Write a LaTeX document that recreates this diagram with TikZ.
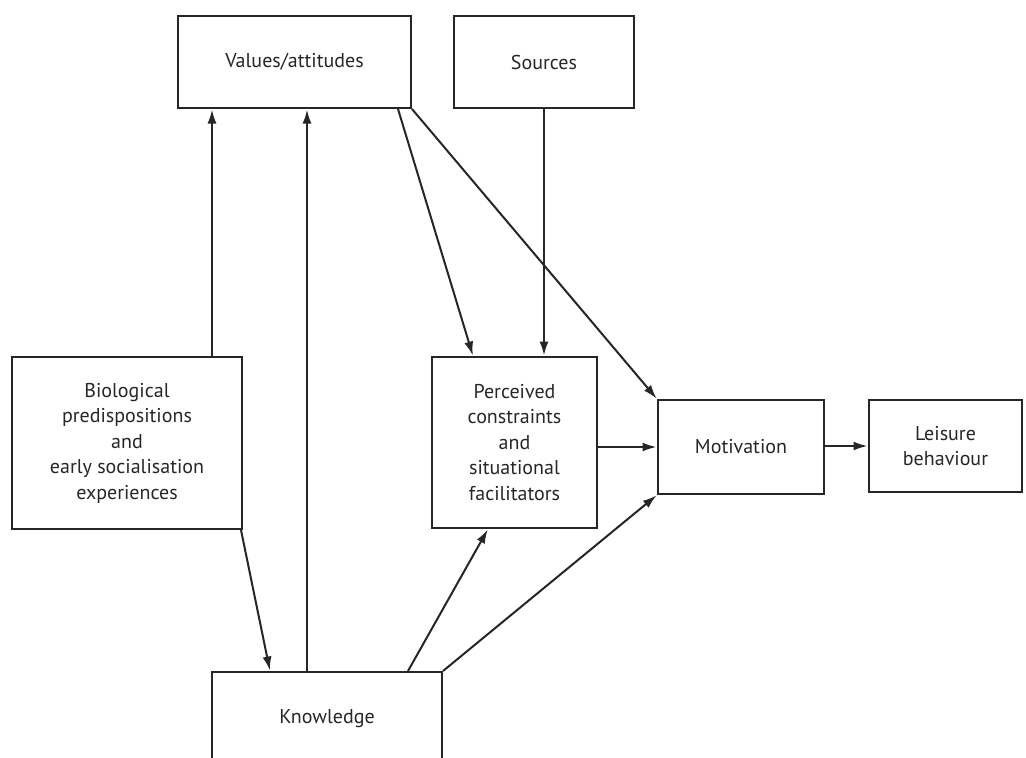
\documentclass[tikz,border=0pt]{standalone}
\usepackage{fontspec}
\setmainfont{PT Sans}
\usetikzlibrary{arrows.meta}
\begin{document}
\begin{tikzpicture}[x=1pt,y=-1pt,
  box/.style={draw, line width=2pt, inner sep=0pt, align=center, font=\fontsize{20}{25.5}\selectfont, color=black!85},
  arr/.style={line width=2pt, draw=black!85, -{Latex[length=14pt,width=9pt]}, shorten >=0.5pt}]
\useasboundingbox (0,0) rectangle (1026,758);
\clip (0,0) rectangle (1026,758);
\node[box, minimum width=233pt, minimum height=92pt] (vals) at (294.5,62) {Values/attitudes};
\node[box, minimum width=180pt, minimum height=92pt] (src) at (544,62) {Sources};
\node[box, minimum width=230pt, minimum height=172pt] (bio) at (127,443) {Biological\\predispositions\\and\\early socialisation\\experiences};
\node[box, minimum width=165pt, minimum height=171pt] (perc) at (514.5,442.5) {Perceived\\constraints\\and\\situational\\facilitators};
\node[box, minimum width=166pt, minimum height=94pt] (mot) at (741,447) {Motivation};
\node[box, minimum width=153pt, minimum height=92pt] (leis) at (945.5,446) {Leisure\\behaviour};
\node[box, minimum width=230pt, minimum height=94pt] (know) at (327,719) {Knowledge};

\draw[arr] ([xshift=85pt]bio.north) -- ([xshift=85pt]bio.north |- vals.south);
\draw[arr] ([xshift=-20pt]know.north) -- ([xshift=-20pt]know.north |- vals.south);
\draw[arr] ([xshift=103.5pt]vals.south) -- ([xshift=-41.5pt]perc.north);
\draw[arr] (vals.south east) -- (mot.north west);
\draw[arr] (src.south) -- (src.south |- perc.north);
\draw[arr] (perc.east |- mot.west) -- (mot.west);
\draw[arr] (mot.east |- leis.west) -- (leis.west);
\draw[arr] ([xshift=-2pt]bio.south east) -- ([xshift=-57pt]know.north);
\draw[arr] ([xshift=81pt]know.north) -- ([xshift=-26.5pt]perc.south);
\draw[arr] (know.north east) -- (mot.south west);
\end{tikzpicture}
\end{document}
